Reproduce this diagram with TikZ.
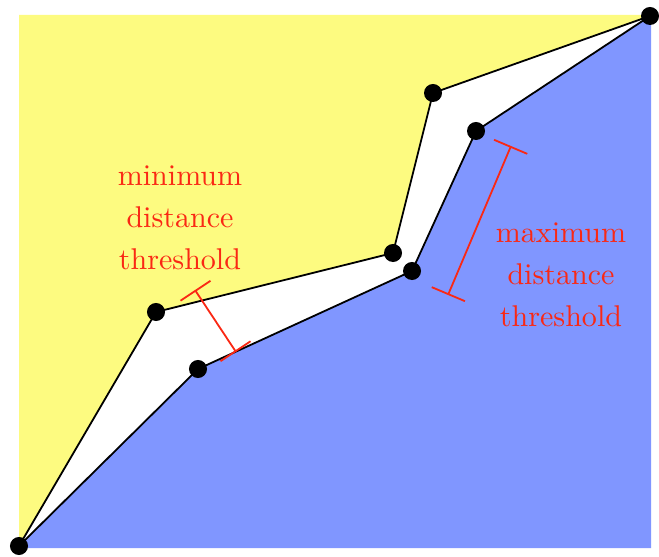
\documentclass[tikz,border=0pt]{standalone}
\usetikzlibrary{arrows.meta}
\definecolor{lightyellow}{RGB}{253,251,128}
\definecolor{lightblue}{RGB}{128,150,255}
\definecolor{markred}{RGB}{250,40,20}

\begin{document}
\begin{tikzpicture}[x=0.0117cm, y=-0.0117cm]
\tikzset{pt/.style={circle, fill=black, inner sep=0pt, minimum size=6pt},
  gap/.style={draw=markred, semithick, {Bar[width=12pt]}-{Bar[width=12pt]}},
  lbl/.style={text=markred, align=center, font={\fontsize{10}{14}\selectfont}}}
\useasboundingbox (0,0) rectangle (659,557);
\coordinate (s) at (19,546);
\coordinate (u1) at (156,312); \coordinate (u2) at (393,253); \coordinate (u3) at (433,93);
\coordinate (l1) at (198,369); \coordinate (l2) at (412,271); \coordinate (l3) at (476,131);
\coordinate (e) at (650,16);
% regions
\fill[lightyellow] (s) -- (19,15) -- (650,15) -- (e) -- (u3) -- (u2) -- (u1) -- cycle;
\fill[lightblue] (s) -- (l1) -- (l2) -- (l3) -- (e) -- (651,16) -- (651,548) -- (19,548) -- cycle;
% boundaries
\draw[semithick] (s) -- (u1) -- (u2) -- (u3) -- (e);
\draw[semithick] (s) -- (l1) -- (l2) -- (l3) -- (e);
\foreach \p in {s,u1,u2,u3,l1,l2,l3,e}
  \node[pt] (n-\p) at (\p) {};
% thresholds
\coordinate (mina) at (195,290); \coordinate (minb) at (236,352);
\coordinate (maxa) at (511,146); \coordinate (maxb) at (448,295);
\draw[gap] (mina) -- (minb);
\draw[gap] (maxa) -- (maxb);
\node[lbl] (minlbl) at (180,218) {minimum\\distance\\threshold};
\node[lbl] (maxlbl) at (561,275) {maximum\\distance\\threshold};
\end{tikzpicture}
\end{document}
